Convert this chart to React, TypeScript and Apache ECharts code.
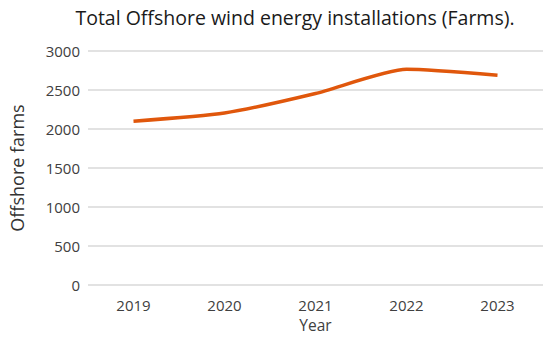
import React, { useEffect, useRef } from "react";
import * as echarts from "echarts";

const years = ["2019", "2020", "2021", "2022", "2023"];
const farms = [2100, 2205, 2455, 2765, 2690];
const yTicks = { min: 0, max: 3000, interval: 500 };

export default function App() {
  const ref = useRef<HTMLDivElement>(null);
  useEffect(() => {
    const chart = echarts.init(ref.current!, null, { renderer: "svg" });
    const font = "'Open Sans', 'Noto Sans', sans-serif";
    chart.setOption({
      animation: false,
      backgroundColor: "#ffffff",
      textStyle: { fontFamily: font },
      title: {
        text: "Total Offshore wind energy installations (Farms).",
        left: 290,
        textAlign: "center",
        top: 2,
        textStyle: { fontSize: 19.5, fontWeight: "normal", color: "#1a1a1a", fontFamily: font },
      },
      grid: { left: 83, right: 7, top: 51, bottom: 51 },
      xAxis: {
        type: "category",
        data: years,
        boundaryGap: true,
        name: "Year",
        nameLocation: "middle",
        nameGap: 32,
        nameTextStyle: { fontSize: 15.5, color: "#404040" },
        axisLine: { show: false },
        axisTick: { show: false },
        axisLabel: { fontSize: 15, color: "#404040", margin: 12 },
      },
      yAxis: {
        type: "value",
        min: yTicks.min,
        max: yTicks.max,
        interval: yTicks.interval,
        name: "Offshore farms",
        nameLocation: "middle",
        nameGap: 62,
        nameTextStyle: { fontSize: 18, color: "#333333" },
        axisLabel: { fontSize: 15, color: "#404040", margin: 8, formatter: (v: number) => String(v) },
        splitLine: { lineStyle: { color: "#d9d9d9", width: 1.5 } },
        axisLine: { show: false },
        axisTick: { show: false },
      },
      series: [
        {
          type: "line",
          data: farms,
          smooth: 0.2,
          symbol: "none",
          lineStyle: { color: "#e0570c", width: 3.5 },
        },
      ],
    });
    return () => chart.dispose();
  }, []);
  return <div ref={ref} style={{ width: 550, height: 338, position: "absolute", left: 0, top: 0 }} />;
}
